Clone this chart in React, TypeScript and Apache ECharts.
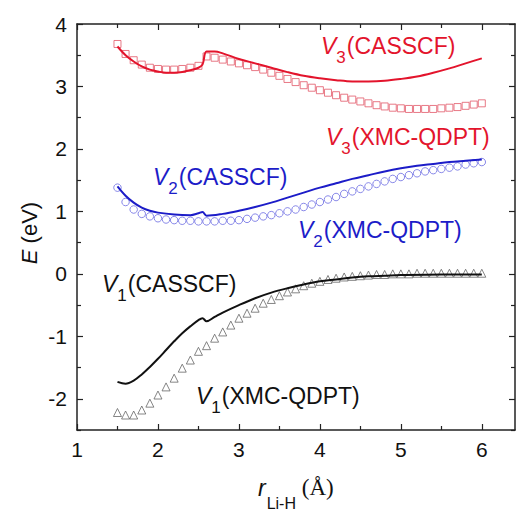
import React, { useEffect, useRef } from 'react';
import * as echarts from 'echarts';

const xTicks = [1, 2, 3, 4, 5, 6];
const xMinorTicks = [1.5, 2.5, 3.5, 4.5, 5.5];
const yTicks = [-2, -1, 0, 1, 2, 3, 4];
const yMinorTicks = [-2.5, -1.5, -0.5, 0.5, 1.5, 2.5, 3.5];

// XMC-QDPT grid of bond lengths (Å)
const rXmc = [1.5, 1.6, 1.7, 1.8, 1.9, 2.0, 2.1, 2.2, 2.3, 2.4, 2.5, 2.6, 2.7, 2.8, 2.9, 3.0, 3.1, 3.2, 3.3, 3.4, 3.5, 3.6, 3.7, 3.8, 3.9, 4.0, 4.1, 4.2, 4.3, 4.4, 4.5, 4.6, 4.7, 4.8, 4.9, 5.0, 5.1, 5.2, 5.3, 5.4, 5.5, 5.6, 5.7, 5.8, 5.9, 6.0];
const v3Xmc = [3.68, 3.52, 3.42, 3.35, 3.30, 3.28, 3.27, 3.27, 3.28, 3.30, 3.33, 3.48, 3.46, 3.43, 3.40, 3.37, 3.34, 3.31, 3.27, 3.22, 3.17, 3.12, 3.07, 3.02, 2.98, 2.94, 2.90, 2.86, 2.82, 2.79, 2.76, 2.73, 2.70, 2.68, 2.66, 2.65, 2.64, 2.64, 2.64, 2.64, 2.65, 2.66, 2.67, 2.69, 2.71, 2.73];
const v2Xmc = [1.38, 1.15, 1.03, 0.96, 0.92, 0.89, 0.87, 0.86, 0.85, 0.85, 0.84, 0.84, 0.84, 0.85, 0.85, 0.86, 0.88, 0.90, 0.92, 0.94, 0.97, 1.00, 1.03, 1.07, 1.11, 1.15, 1.19, 1.23, 1.28, 1.32, 1.36, 1.40, 1.44, 1.48, 1.52, 1.55, 1.58, 1.61, 1.64, 1.66, 1.68, 1.70, 1.72, 1.75, 1.77, 1.79];
const v1Xmc = [-2.22, -2.26, -2.26, -2.18, -2.07, -1.94, -1.81, -1.67, -1.51, -1.38, -1.24, -1.15, -1.03, -0.93, -0.82, -0.71, -0.63, -0.55, -0.47, -0.41, -0.35, -0.29, -0.24, -0.19, -0.15, -0.12, -0.09, -0.07, -0.05, -0.04, -0.03, -0.02, -0.01, -0.01, 0.0, 0.0, 0.0, 0.01, 0.01, 0.01, 0.01, 0.01, 0.01, 0.01, 0.01, 0.01];

// CASSCF curves
const rV3Cas = [1.5, 1.6, 1.7, 1.8, 1.9, 2.0, 2.1, 2.2, 2.3, 2.4, 2.5, 2.55, 2.6, 2.7, 2.8, 3.0, 3.2, 3.4, 3.6, 3.8, 4.0, 4.2, 4.4, 4.6, 4.8, 5.0, 5.2, 5.4, 5.6, 5.8, 6.0];
const v3Cas = [3.64, 3.50, 3.40, 3.32, 3.27, 3.24, 3.22, 3.22, 3.23, 3.26, 3.30, 3.35, 3.56, 3.56, 3.53, 3.44, 3.37, 3.30, 3.23, 3.17, 3.13, 3.10, 3.08, 3.08, 3.09, 3.12, 3.16, 3.22, 3.29, 3.37, 3.45];
const rV2Cas = [1.5, 1.6, 1.7, 1.8, 1.9, 2.0, 2.2, 2.4, 2.5, 2.55, 2.6, 2.8, 3.0, 3.2, 3.4, 3.6, 3.8, 4.0, 4.2, 4.4, 4.6, 4.8, 5.0, 5.2, 5.4, 5.6, 5.8, 6.0];
const v2Cas = [1.40, 1.25, 1.14, 1.06, 1.01, 0.98, 0.95, 0.94, 0.97, 0.99, 0.93, 0.96, 1.01, 1.07, 1.14, 1.22, 1.30, 1.38, 1.45, 1.52, 1.58, 1.64, 1.69, 1.73, 1.76, 1.79, 1.81, 1.83];
const rV1Cas = [1.5, 1.6, 1.7, 1.8, 1.9, 2.0, 2.1, 2.2, 2.3, 2.4, 2.5, 2.55, 2.6, 2.7, 2.8, 3.0, 3.2, 3.4, 3.6, 3.8, 4.0, 4.2, 4.4, 4.6, 4.8, 5.0, 5.5, 6.0];
const v1Cas = [-1.73, -1.76, -1.71, -1.61, -1.49, -1.36, -1.22, -1.08, -0.95, -0.84, -0.74, -0.71, -0.76, -0.69, -0.62, -0.50, -0.39, -0.30, -0.23, -0.17, -0.12, -0.09, -0.06, -0.04, -0.03, -0.02, -0.01, -0.01];

const SANS = '"Liberation Sans", Arial, sans-serif';
const SERIF = '"Liberation Serif", "Times New Roman", serif';
const RED = '#e3142c';
const BLUE = '#1c1cc8';
const BLACK = '#111111';

const zip = (xs: number[], ys: number[]) => xs.map((x, i) => [x, ys[i]]);

function stateLabel(n: string, method: string, color: string, left: number, top: number) {
  return {
    type: 'text',
    x: left,
    y: top,
    style: {
      text: `{v|V}{s|${n}}{t|(${method})}`,
      fill: color,
      textAlign: 'left',
      textVerticalAlign: 'top',
      rich: {
        v: { fontStyle: 'italic', fontSize: 23, fontFamily: SANS, fill: color, verticalAlign: 'top' },
        s: { fontSize: 17, fontFamily: SANS, fill: color, verticalAlign: 'top', padding: [15, 1, 0, 0] },
        t: { fontSize: 23, fontFamily: SANS, fill: color, verticalAlign: 'top' },
      },
    },
  };
}

export default function App() {
  const ref = useRef<HTMLDivElement>(null);
  useEffect(() => {
    if (!ref.current) return;
    const chart = echarts.init(ref.current, null, { renderer: 'svg' });
    const axisLine = { show: true, onZero: false, lineStyle: { color: '#222', width: 1.5 } };
    const hiddenLine = { show: false, onZero: false };
    const tickStyle = { color: '#222', width: 1.2 };
    const noLabel = { show: false };
    const noSplit = { show: false };
    const xBase = { type: 'value', min: 1, max: 6.41, splitLine: noSplit };
    const yBase = { type: 'value', min: -2.5, max: 4, splitLine: noSplit };
    chart.setOption({
      animation: false,
      backgroundColor: '#ffffff',
      grid: { left: 77, top: 24, right: 1, bottom: 83, containLabel: false },
      xAxis: [
        {
          ...xBase, position: 'bottom', axisLine,
          axisTick: { show: true, inside: true, length: 6, customValues: xTicks, lineStyle: tickStyle },
          axisLabel: { show: true, customValues: xTicks, fontSize: 21, color: '#111', fontFamily: SANS, margin: 9 },
        },
        {
          ...xBase, position: 'bottom', axisLine: hiddenLine,
          axisTick: { show: true, inside: true, length: 4, customValues: xMinorTicks, lineStyle: tickStyle },
          axisLabel: noLabel,
        },
        {
          ...xBase, position: 'top', axisLine,
          axisTick: { show: true, inside: true, length: 6, customValues: xTicks, lineStyle: tickStyle },
          axisLabel: noLabel,
        },
        {
          ...xBase, position: 'top', axisLine: hiddenLine,
          axisTick: { show: true, inside: true, length: 4, customValues: xMinorTicks, lineStyle: tickStyle },
          axisLabel: noLabel,
        },
      ],
      yAxis: [
        {
          ...yBase, position: 'left', axisLine,
          axisTick: { show: true, inside: true, length: 6, customValues: yTicks, lineStyle: tickStyle },
          axisLabel: { show: true, customValues: yTicks, fontSize: 21, color: '#111', fontFamily: SANS, margin: 10 },
        },
        {
          ...yBase, position: 'left', axisLine: hiddenLine,
          axisTick: { show: true, inside: true, length: 4, customValues: yMinorTicks, lineStyle: tickStyle },
          axisLabel: noLabel,
        },
        {
          ...yBase, position: 'right', axisLine,
          axisTick: { show: true, inside: true, length: 6, customValues: yTicks, lineStyle: tickStyle },
          axisLabel: noLabel,
        },
        {
          ...yBase, position: 'right', axisLine: hiddenLine,
          axisTick: { show: true, inside: true, length: 4, customValues: yMinorTicks, lineStyle: tickStyle },
          axisLabel: noLabel,
        },
      ],
      series: [
        {
          name: 'V3(XMC-QDPT)', type: 'scatter', data: zip(rXmc, v3Xmc), symbol: 'rect', symbolSize: 7,
          itemStyle: { color: 'rgba(0,0,0,0)', borderColor: '#e25868', borderWidth: 1 },
        },
        {
          name: 'V2(XMC-QDPT)', type: 'scatter', data: zip(rXmc, v2Xmc), symbol: 'circle', symbolSize: 7.5,
          itemStyle: { color: 'rgba(0,0,0,0)', borderColor: '#6a6ae2', borderWidth: 1 },
        },
        {
          name: 'V1(XMC-QDPT)', type: 'scatter', data: zip(rXmc, v1Xmc), symbol: 'triangle', symbolSize: 8,
          itemStyle: { color: 'rgba(0,0,0,0)', borderColor: '#666', borderWidth: 1 },
        },
        {
          name: 'V3(CASSCF)', type: 'line', data: zip(rV3Cas, v3Cas), showSymbol: false, symbol: 'none',
          smooth: 0.35, lineStyle: { color: RED, width: 2 },
        },
        {
          name: 'V2(CASSCF)', type: 'line', data: zip(rV2Cas, v2Cas), showSymbol: false, symbol: 'none',
          smooth: 0.35, lineStyle: { color: BLUE, width: 2 },
        },
        {
          name: 'V1(CASSCF)', type: 'line', data: zip(rV1Cas, v1Cas), showSymbol: false, symbol: 'none',
          smooth: 0.35, lineStyle: { color: BLACK, width: 2 },
        },
      ],
      graphic: [
        stateLabel('3', 'CASSCF', RED, 321, 34),
        stateLabel('3', 'XMC-QDPT', RED, 326, 125),
        stateLabel('2', 'CASSCF', BLUE, 153, 165),
        stateLabel('2', 'XMC-QDPT', BLUE, 298, 218),
        stateLabel('1', 'CASSCF', BLACK, 102, 272),
        stateLabel('1', 'XMC-QDPT', BLACK, 196, 384),
        {
          type: 'text',
          x: 258,
          y: 476,
          style: {
            text: '{r|r}{s|Li-H}{p| (Å)}',
            fill: '#111',
            textAlign: 'left',
            textVerticalAlign: 'top',
            rich: {
              r: { fontStyle: 'italic', fontSize: 23, fontFamily: SANS, fill: '#111', verticalAlign: 'top' },
              s: { fontSize: 16, fontFamily: SANS, fill: '#111', verticalAlign: 'top', padding: [19, 0, 0, 1] },
              p: { fontSize: 23, fontFamily: SERIF, fill: '#111', verticalAlign: 'top' },
            },
          },
        },
        {
          type: 'text',
          x: 29,
          y: 233,
          rotation: Math.PI / 2,
          style: {
            text: '{e|E} (eV)',
            fill: '#111',
            textAlign: 'center',
            textVerticalAlign: 'middle',
            rich: {
              e: { fontStyle: 'italic', fontSize: 22, fontFamily: SANS, fill: '#111' },
            },
            fontSize: 22,
            fontFamily: SANS,
          },
        },
      ],
    });
    return () => chart.dispose();
  }, []);
  return <div ref={ref} style={{ position: 'absolute', left: 0, top: 0, width: 516, height: 513 }} />;
}
